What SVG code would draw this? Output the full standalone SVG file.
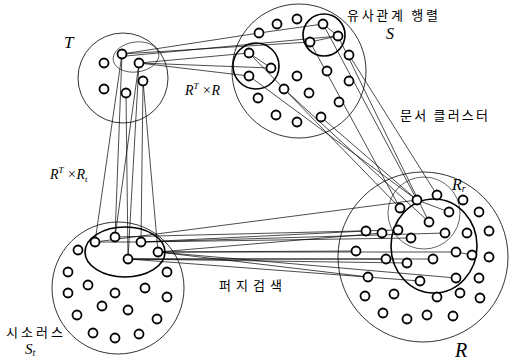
<svg xmlns="http://www.w3.org/2000/svg" width="509" height="360" viewBox="0 0 509 360">
<style>
.big{fill:none;stroke:#000;stroke-width:0.8}
.thin{fill:none;stroke:#000;stroke-width:0.6}
.thick{fill:none;stroke:#000;stroke-width:1.6}
.n{fill:#fff;stroke:#000;stroke-width:1.8}
.c line{stroke:#000;stroke-width:0.7}
.it{font-family:"Liberation Serif",serif;font-style:italic;fill:#000}
.kr{font-family:"Noto Sans CJK KR",sans-serif;fill:#000;font-size:13px}
</style>
<rect width="509" height="360" fill="#fff"/>
<g id="connectors" class="c">
<line x1="122" y1="54" x2="259" y2="33"/>
<line x1="259" y1="33" x2="323" y2="24"/>
<line x1="122" y1="54" x2="310" y2="42"/>
<line x1="126" y1="56" x2="338" y2="36"/>
<line x1="139" y1="63" x2="249" y2="53"/>
<line x1="139" y1="63" x2="271" y2="68"/>
<line x1="139" y1="63" x2="249" y2="76"/>
<line x1="249" y1="53" x2="271" y2="68"/>
<line x1="323" y1="24" x2="338" y2="36"/>
<line x1="310" y1="42" x2="338" y2="36"/>
<line x1="310" y1="42" x2="400" y2="208"/>
<line x1="323" y1="24" x2="417" y2="200"/>
<line x1="338" y1="36" x2="429" y2="222"/>
<line x1="349" y1="55" x2="437" y2="195"/>
<line x1="249" y1="76" x2="417" y2="200"/>
<line x1="249" y1="53" x2="400" y2="208"/>
<line x1="284" y1="89" x2="429" y2="222"/>
<line x1="321" y1="117" x2="417" y2="200"/>
<line x1="417" y1="200" x2="449" y2="212"/>
<line x1="122" y1="54" x2="95" y2="242"/>
<line x1="122" y1="54" x2="115" y2="237"/>
<line x1="139" y1="63" x2="128" y2="259"/>
<line x1="139" y1="63" x2="115" y2="237"/>
<line x1="143" y1="81" x2="141" y2="242"/>
<line x1="143" y1="81" x2="158" y2="252"/>
<line x1="126" y1="93" x2="128" y2="259"/>
<line x1="95" y1="242" x2="141" y2="242"/>
<line x1="95" y1="242" x2="417" y2="200"/>
<line x1="115" y1="237" x2="398" y2="230"/>
<line x1="141" y1="242" x2="366" y2="231"/>
<line x1="141" y1="242" x2="445" y2="233"/>
<line x1="158" y1="252" x2="382" y2="233"/>
<line x1="158" y1="252" x2="356" y2="251"/>
<line x1="158" y1="252" x2="456" y2="252"/>
<line x1="128" y1="259" x2="386" y2="259"/>
<line x1="128" y1="259" x2="433" y2="259"/>
<line x1="128" y1="259" x2="407" y2="263"/>
<line x1="158" y1="252" x2="368" y2="277"/>
<line x1="158" y1="252" x2="456" y2="278"/>
<line x1="128" y1="259" x2="420" y2="281"/>
<line x1="141" y1="242" x2="411" y2="238"/>
<line x1="456" y1="252" x2="472" y2="255"/>
</g>
<g id="T">
<circle class="big" cx="123" cy="78" r="45"/>
<ellipse class="thin" cx="136" cy="57" rx="23" ry="15" transform="rotate(-8 136 57)"/>
<circle class="n" cx="122" cy="54" r="4.5"/>
<circle class="n" cx="139" cy="63" r="4.5"/>
<circle class="n" cx="104" cy="63" r="4.5"/>
<circle class="n" cx="143" cy="81" r="4.5"/>
<circle class="n" cx="104" cy="89" r="4.5"/>
<circle class="n" cx="126" cy="93" r="4.5"/>
</g>
<g id="S">
<circle class="big" cx="299" cy="71" r="67"/>
<circle class="thick" cx="324" cy="35" r="21"/>
<circle class="thick" cx="256" cy="66" r="23"/>
<circle class="n" cx="259" cy="33" r="4.5"/>
<circle class="n" cx="277" cy="24" r="4.5"/>
<circle class="n" cx="297" cy="19" r="4.5"/>
<circle class="n" cx="323" cy="24" r="4.5"/>
<circle class="n" cx="338" cy="36" r="4.5"/>
<circle class="n" cx="310" cy="42" r="4.5"/>
<circle class="n" cx="349" cy="55" r="4.5"/>
<circle class="n" cx="249" cy="53" r="4.5"/>
<circle class="n" cx="271" cy="68" r="4.5"/>
<circle class="n" cx="249" cy="76" r="4.5"/>
<circle class="n" cx="297" cy="76" r="4.5"/>
<circle class="n" cx="327" cy="71" r="4.5"/>
<circle class="n" cx="349" cy="81" r="4.5"/>
<circle class="n" cx="284" cy="89" r="4.5"/>
<circle class="n" cx="309" cy="93" r="4.5"/>
<circle class="n" cx="258" cy="98" r="4.5"/>
<circle class="n" cx="339" cy="102" r="4.5"/>
<circle class="n" cx="276" cy="115" r="4.5"/>
<circle class="n" cx="297" cy="122" r="4.5"/>
<circle class="n" cx="321" cy="117" r="4.5"/>
</g>
<g id="St">
<circle class="big" cx="118" cy="288" r="66"/>
<ellipse class="thick" cx="125" cy="252" rx="40" ry="25"/>
<circle class="n" cx="95" cy="242" r="4.5"/>
<circle class="n" cx="115" cy="237" r="4.5"/>
<circle class="n" cx="141" cy="242" r="4.5"/>
<circle class="n" cx="158" cy="252" r="4.5"/>
<circle class="n" cx="128" cy="259" r="4.5"/>
<circle class="n" cx="78" cy="250" r="4.5"/>
<circle class="n" cx="68" cy="272" r="4.5"/>
<circle class="n" cx="167" cy="272" r="4.5"/>
<circle class="n" cx="88" cy="285" r="4.5"/>
<circle class="n" cx="68" cy="293" r="4.5"/>
<circle class="n" cx="115" cy="293" r="4.5"/>
<circle class="n" cx="145" cy="288" r="4.5"/>
<circle class="n" cx="167" cy="297" r="4.5"/>
<circle class="n" cx="102" cy="306" r="4.5"/>
<circle class="n" cx="128" cy="310" r="4.5"/>
<circle class="n" cx="77" cy="315" r="4.5"/>
<circle class="n" cx="157" cy="319" r="4.5"/>
<circle class="n" cx="93" cy="333" r="4.5"/>
<circle class="n" cx="115" cy="338" r="4.5"/>
<circle class="n" cx="139" cy="334" r="4.5"/>
</g>
<g id="R">
<circle class="big" cx="423" cy="257" r="85"/>
<circle class="thin" cx="424" cy="213" r="36"/>
<ellipse class="thick" cx="434" cy="246" rx="43" ry="47"/>
<circle class="n" cx="417" cy="200" r="4.5"/>
<circle class="n" cx="437" cy="195" r="4.5"/>
<circle class="n" cx="463" cy="200" r="4.5"/>
<circle class="n" cx="479" cy="212" r="4.5"/>
<circle class="n" cx="400" cy="208" r="4.5"/>
<circle class="n" cx="449" cy="212" r="4.5"/>
<circle class="n" cx="429" cy="222" r="4.5"/>
<circle class="n" cx="366" cy="231" r="4.5"/>
<circle class="n" cx="382" cy="233" r="4.5"/>
<circle class="n" cx="398" cy="230" r="4.5"/>
<circle class="n" cx="411" cy="238" r="4.5"/>
<circle class="n" cx="445" cy="233" r="4.5"/>
<circle class="n" cx="467" cy="233" r="4.5"/>
<circle class="n" cx="489" cy="231" r="4.5"/>
<circle class="n" cx="356" cy="251" r="4.5"/>
<circle class="n" cx="386" cy="259" r="4.5"/>
<circle class="n" cx="407" cy="263" r="4.5"/>
<circle class="n" cx="433" cy="259" r="4.5"/>
<circle class="n" cx="456" cy="252" r="4.5"/>
<circle class="n" cx="472" cy="255" r="4.5"/>
<circle class="n" cx="489" cy="257" r="4.5"/>
<circle class="n" cx="368" cy="277" r="4.5"/>
<circle class="n" cx="420" cy="281" r="4.5"/>
<circle class="n" cx="456" cy="278" r="4.5"/>
<circle class="n" cx="479" cy="278" r="4.5"/>
<circle class="n" cx="365" cy="296" r="4.5"/>
<circle class="n" cx="394" cy="294" r="4.5"/>
<circle class="n" cx="437" cy="297" r="4.5"/>
<circle class="n" cx="460" cy="293" r="4.5"/>
<circle class="n" cx="480" cy="298" r="4.5"/>
<circle class="n" cx="383" cy="313" r="4.5"/>
<circle class="n" cx="407" cy="319" r="4.5"/>
<circle class="n" cx="427" cy="315" r="4.5"/>
<circle class="n" cx="453" cy="316" r="4.5"/>
</g>
<g id="labels">
<text class="it" x="64" y="48" font-size="17">T</text>
<text class="kr" x="347" y="20" textLength="91">유사관계 행렬</text>
<text class="it" x="386" y="39" font-size="16">S</text>
<text class="it" x="185" y="95" font-size="14">R<tspan font-size="9" dy="-6">T</tspan><tspan dy="6"> ×</tspan>R</text>
<text class="kr" x="400" y="120" textLength="88">문서 클러스터</text>
<text class="it" x="50" y="179" font-size="14">R<tspan font-size="9" dy="-6">T</tspan><tspan dy="6"> ×</tspan>R<tspan font-size="9" dy="3">t</tspan></text>
<text class="it" x="452" y="190" font-size="16">R<tspan font-size="10" dy="2">r</tspan></text>
<text class="kr" x="219" y="290" textLength="63">퍼지검색</text>
<text class="kr" x="6" y="337" textLength="57">시소러스</text>
<text class="it" x="25" y="354" font-size="15">S<tspan font-size="10" dy="2">t</tspan></text>
<text class="it" x="455" y="357" font-size="20">R</text>
</g>
</svg>
